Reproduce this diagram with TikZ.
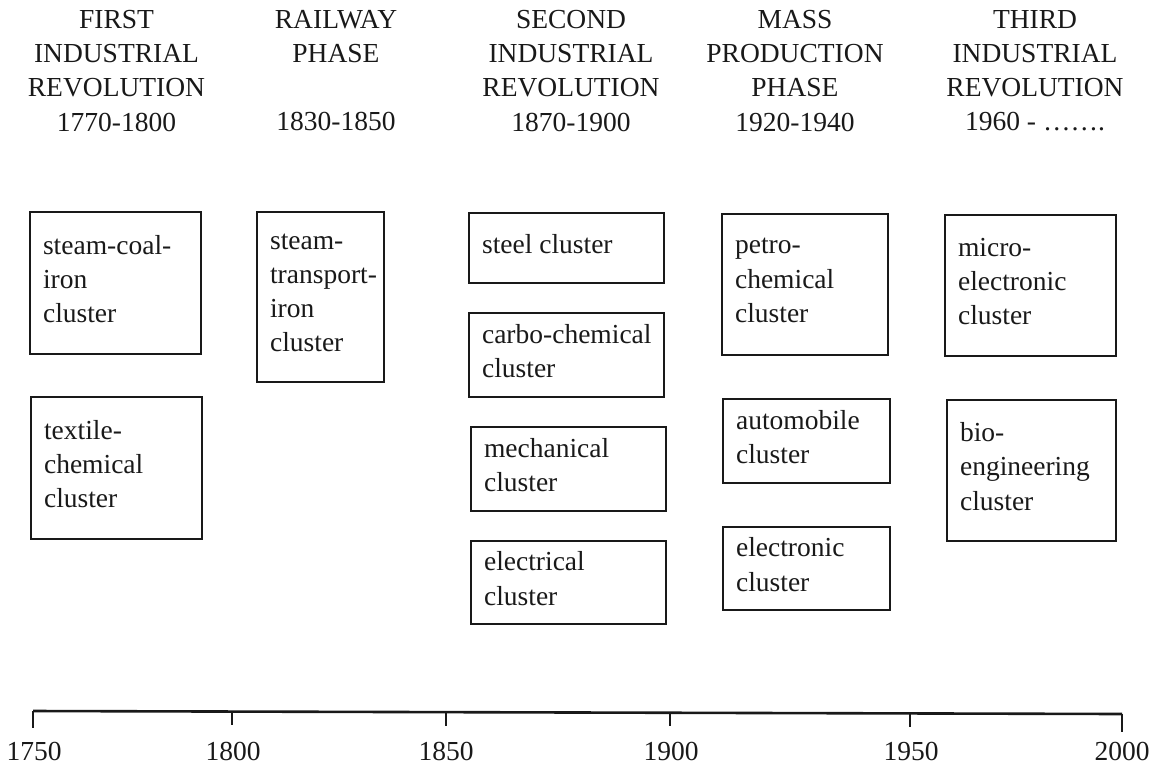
\documentclass[tikz,border=0pt]{standalone}
\usepackage{fontspec}
\setmainfont{Liberation Serif}
\definecolor{ink}{gray}{0.1}
\newcommand{\clusterbox}[6]{%
  \node[box, minimum width={#4-#2}, minimum height={#5-#3}] (#1) at ({(#2+#4)/2},{(#3+#5)/2}) {};
  \node[ctext, anchor=west] (#1t) at ([xshift=14pt,yshift=4pt]#1.west) {#6};
}
\begin{document}
\begin{tikzpicture}[x=1pt,y=-1pt,
  font=\fontsize{27.5}{34.2}\selectfont, text=ink,
  box/.style={draw=ink, line width=2.3pt, inner sep=0pt},
  ctext/.style={align=left, inner sep=0pt},
  head/.style={align=center, anchor=north, inner sep=0pt},
  year/.style={anchor=base, inner sep=0pt},
  axisline/.style={draw=ink, line width=2.6pt},
  tickline/.style={draw=ink, line width=2pt}]
\useasboundingbox (0,0) rectangle (1150,774);

% headings
\node[head] (h1) at (116.5,10) {FIRST\\INDUSTRIAL\\REVOLUTION\\1770-1800};
\node[head] (h2) at (336,10) {RAILWAY\\PHASE\\[34.2pt]1830-1850};
\node[head] (h3) at (571,10) {SECOND\\INDUSTRIAL\\REVOLUTION\\1870-1900};
\node[head] (h4) at (795,10) {MASS\\PRODUCTION\\PHASE\\1920-1940};
\node[head] (h5) at (1035,10) {THIRD\\INDUSTRIAL\\REVOLUTION\\1960 - …….};

% cluster boxes
\clusterbox{b1}{30}{212}{201}{354}{steam-coal-\\iron\\cluster}
\clusterbox{b2}{31}{397}{202}{539}{textile-\\chemical\\cluster}
\clusterbox{b3}{257}{212}{384}{382}{steam-\\transport-\\iron\\cluster}
\clusterbox{b4}{469}{213}{664}{283}{steel cluster}
\clusterbox{b5}{469}{313}{664}{397}{carbo-chemical\\cluster}
\clusterbox{b6}{471}{427}{666}{511}{mechanical\\cluster}
\clusterbox{b7}{471}{541}{666}{624}{electrical\\cluster}
\clusterbox{b8}{722}{214}{888}{355}{petro-\\chemical\\cluster}
\clusterbox{b9}{723}{399}{890}{483}{automobile\\cluster}
\clusterbox{b10}{723}{527}{890}{610}{electronic\\cluster}
\clusterbox{b11}{945}{215}{1116}{356}{micro-\\electronic\\cluster}
\clusterbox{b12}{947}{400}{1116}{541}{bio-\\engineering\\cluster}

% time axis
\coordinate (t1750) at (33,711);
\coordinate (t1800) at (232,711.5);
\coordinate (t1850) at (446,712);
\coordinate (t1900) at (670,712.7);
\coordinate (t1950) at (910,713.3);
\coordinate (t2000) at (1122,714);
\draw[axisline] (t1750) -- (t2000);
\draw[tickline] (t1750) -- ++(0,17);
\draw[tickline] (t1800) -- ++(0,13);
\draw[tickline] (t1850) -- ++(0,14);
\draw[tickline] (t1900) -- ++(0,13);
\draw[tickline] (t1950) -- ++(0,14);
\draw[tickline] (t2000) -- ++(0,18);

\node[year] (y1750) at (34,760) {1750};
\node[year] (y1800) at (233,760) {1800};
\node[year] (y1850) at (446,760) {1850};
\node[year] (y1900) at (671,760) {1900};
\node[year] (y1950) at (911,760) {1950};
\node[year] (y2000) at (1122,760) {2000};
\end{tikzpicture}
\end{document}
